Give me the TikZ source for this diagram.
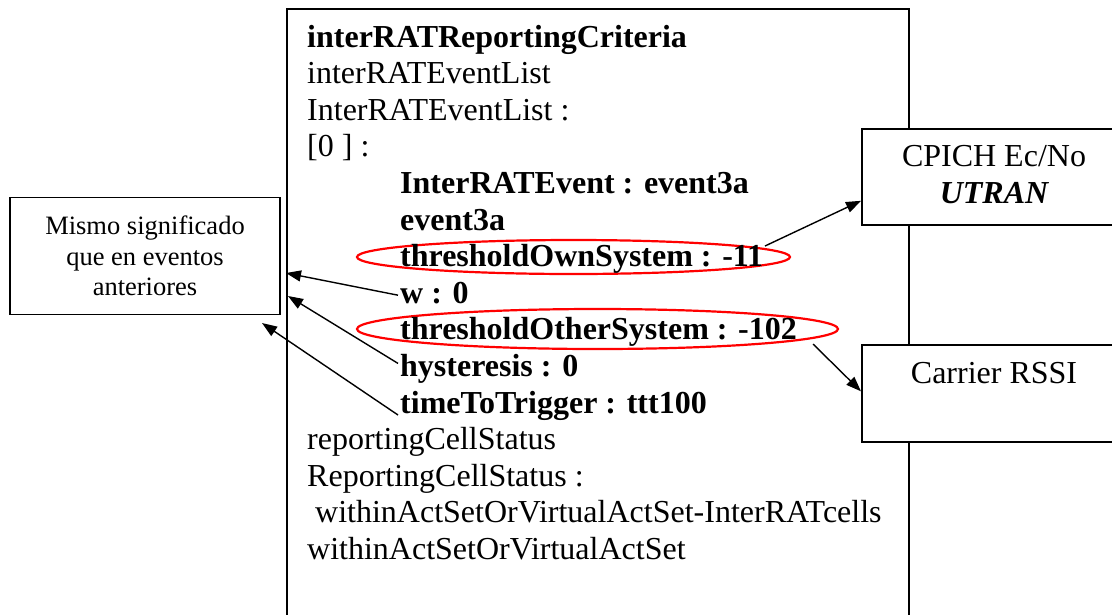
\documentclass[tikz,border=0pt]{standalone}
\usepackage{fontspec}
\setmainfont{Liberation Serif}
\usetikzlibrary{arrows.meta,calc}
\tikzset{
  box/.style={draw=black, line width=1.6pt, fill=white, inner sep=0pt},
  txt/.style={font=\fontsize{32}{36.6}\selectfont, anchor=base west, inner sep=0pt},
  txtb/.style={font=\fontsize{32}{36.6}\selectfont\bfseries, anchor=base west, inner sep=0pt},
  lbl/.style={font=\fontsize{32}{36.6}\selectfont, anchor=base, inner sep=0pt},
  hl/.style={draw=red, line width=2.2pt},
  arr/.style={line width=1.4pt, -{Triangle[length=15pt,width=11pt]}},
}
\begin{document}
\begin{tikzpicture}[x=1pt,y=-1pt]
\useasboundingbox (0,0) rectangle (1112,614);
\clip (0,0) rectangle (1112,614);
% main box
\node[box, anchor=north west, minimum width=622, minimum height=700] (mainbox) at (286,8) {};
% highlight ellipses
\draw[hl] (573.5,257) ellipse [x radius=216.5, y radius=17];
\draw[hl] (597.5,329) ellipse [x radius=240.5, y radius=20];
% main text
\node[txtb] (l1) at (307,47) {interRATReportingCriteria};
\node[txt] (l2) at (307,83.6) {interRATEventList};
\node[txt] (l3) at (307,120.2) {InterRATEventList :};
\node[txt] (l4) at (307,156.8) {[0 ] :};
\node[txtb] (l5) at (400,193.4) {InterRATEvent : event3a};
\node[txtb] (l6) at (400,230) {event3a};
\node[txtb] (l7) at (400,266.6) {thresholdOwnSystem : -11};
\node[txtb] (l8) at (400,303.2) {w : 0};
\node[txtb] (l9) at (400,339.8) {thresholdOtherSystem : -102};
\node[txtb] (l10) at (400,376.4) {hysteresis : 0};
\node[txtb] (l11) at (400,413) {timeToTrigger : ttt100};
\node[txt] (l12) at (307,449.6) {reportingCellStatus};
\node[txt] (l13) at (307,486.2) {ReportingCellStatus :};
\node[txt] (l14) at (315,522.8) {withinActSetOrVirtualActSet-InterRATcells};
\node[txt] (l15) at (307,559.4) {withinActSetOrVirtualActSet};
% left box
\node[box, minimum width=270, minimum height=117, align=center,
      font=\fontsize{26.5}{30.5}\selectfont] (lbox) at (145,256)
      {Mismo significado\\que en eventos\\anteriores};
% right boxes
\node[box, anchor=north west, minimum width=280, minimum height=96] (ctop) at (861,128) {};
\node[lbl] (ctop1) at (994,166) {CPICH Ec/No};
\node[lbl, font=\fontsize{32}{36.6}\selectfont\bfseries\itshape] (ctop2) at (994,203) {UTRAN};
\node[box, anchor=north west, minimum width=280, minimum height=97] (cbot) at (861,344) {};
\node[lbl] (cbot1) at (994,383) {Carrier RSSI};
% connector end points
\coordinate (s1) at ($(l8.base west)+(-2,-8)$);
\coordinate (t1) at (286,273);
\coordinate (s2) at ($(l10.base west)+(-2,-13)$);
\coordinate (t2) at (288,296);
\coordinate (s3) at ($(l11.base west)+(-2,2)$);
\coordinate (t3) at (262,323);
\coordinate (s4) at (765,246);
\coordinate (t4) at ($(ctop.west)+(0,24)$);
\coordinate (s5) at (813,344);
\coordinate (t5) at ($(cbot.west)+(0,-2)$);
% connectors
\draw[arr] (s1) -- (t1);
\draw[arr] (s2) -- (t2);
\draw[arr] (s3) -- (t3);
\draw[arr] (s4) -- (t4);
\draw[arr] (s5) -- (t5);
\end{tikzpicture}
\end{document}
